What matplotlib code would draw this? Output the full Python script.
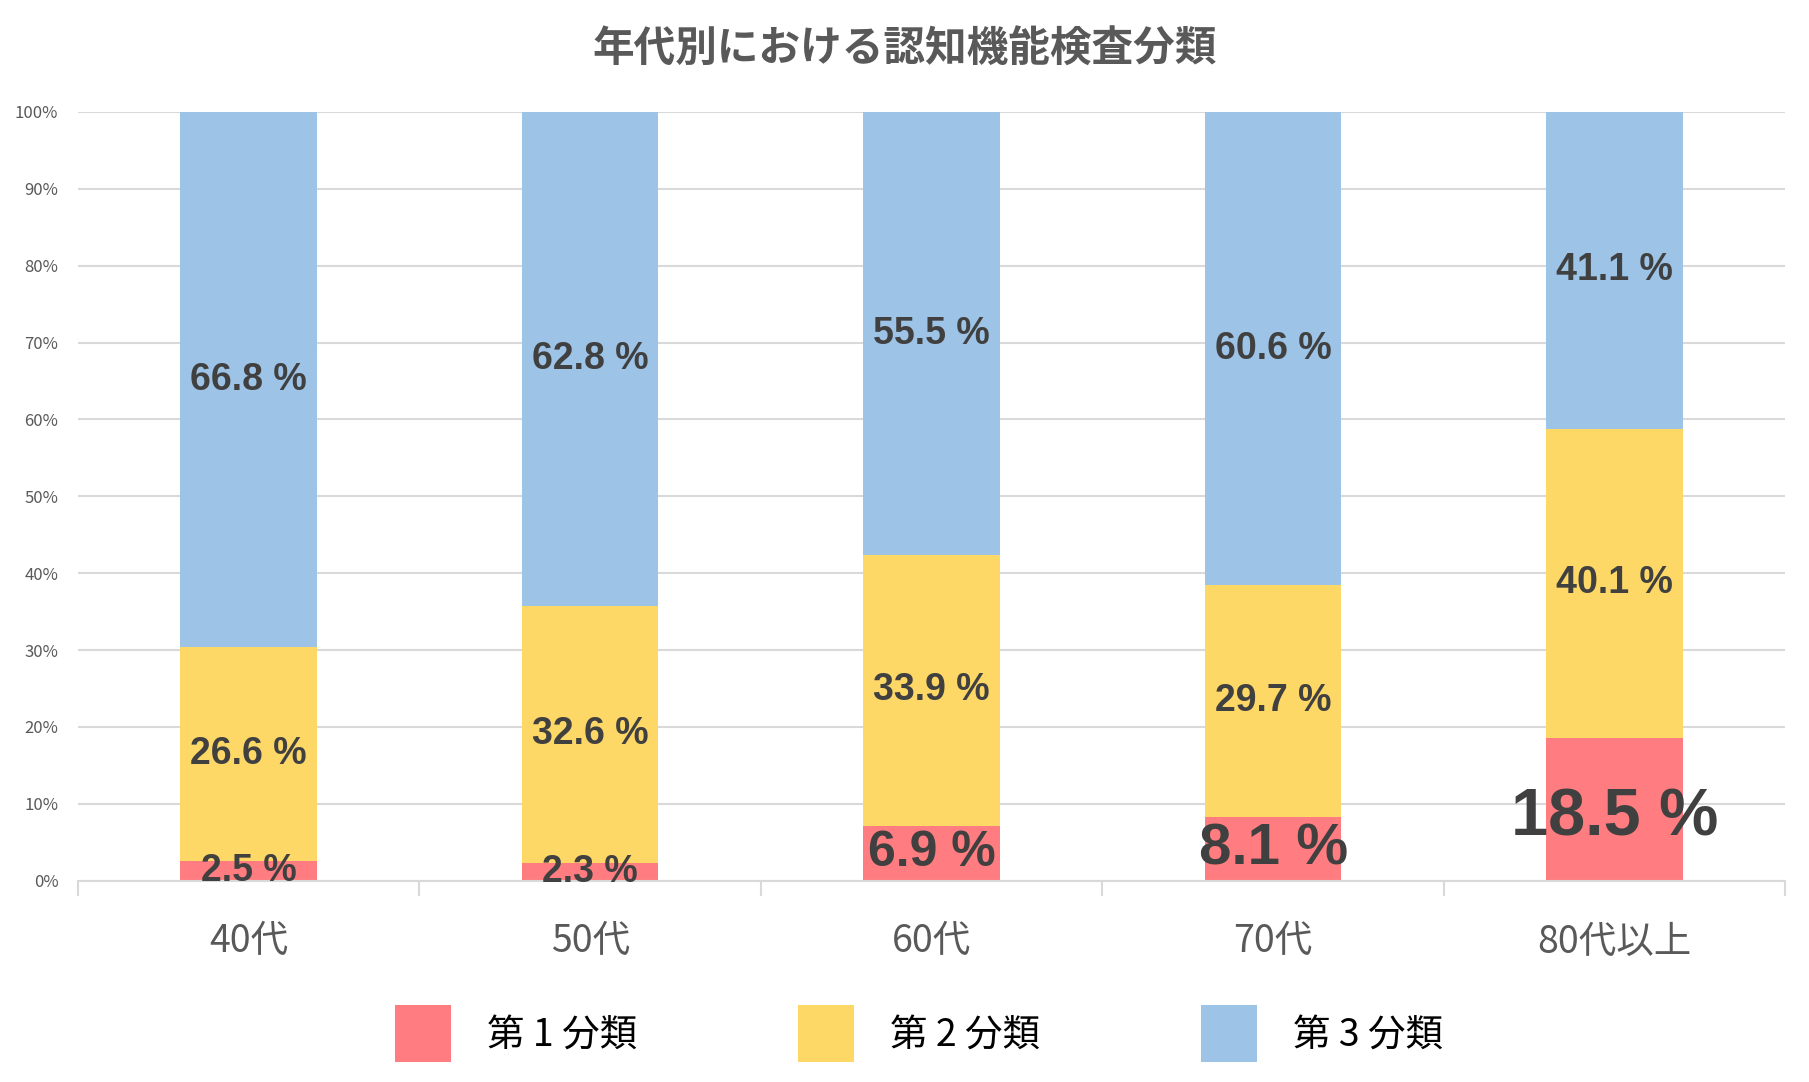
import numpy as np
import matplotlib
matplotlib.use("Agg")
import matplotlib.pyplot as plt
from matplotlib.ticker import PercentFormatter, FixedLocator

plt.rcParams['font.family'] = ['Noto Sans CJK JP', 'DejaVu Sans']

# データ
categories = ["40代", "50代", "60代", "70代", "80代以上"]
series_names = ["第 1 分類", "第 2 分類", "第 3 分類"]
cls1 = [2.5, 2.3, 6.9, 8.1, 18.5]
cls2 = [26.6, 32.6, 33.9, 29.7, 40.1]
cls3 = [66.8, 62.8, 55.5, 60.6, 41.1]

colors = ["#FF7C80", "#FDD867", "#9DC3E6"]
# 第1分類のラベルだけ大きさが違う
label_sizes1 = [27, 27, 36, 42, 48]

fig = plt.figure(figsize=(18.09, 10.82), dpi=100)
ax = fig.add_axes([0.043, 0.186, 0.944, 0.7105])

x = np.arange(len(categories))
data = np.array([cls1, cls2, cls3])
total = data.sum(axis=0)
frac = data / total  # 100%積み上げ

bottom = np.zeros(len(categories))
bars = []
for i in range(3):
    b = ax.bar(x, frac[i], 0.4, bottom=bottom, color=colors[i], label=series_names[i], zorder=2)
    bars.append(b)
    for j in range(len(categories)):
        size = label_sizes1[j] if i == 0 else 27
        yc = bottom[j] + frac[i][j] / 2
        if size > 45:
            yc -= 0.012  # 一番大きいラベルは少し下げる
        ax.text(x[j], yc, f"{data[i][j]:.1f} %",
                ha="center", va="center", fontsize=size, fontweight="bold",
                color="#404040", family=["Liberation Sans", "DejaVu Sans"], zorder=3)
    bottom = bottom + frac[i]

ax.set_xlim(-0.5, len(categories) - 0.5)
ax.set_ylim(0, 1)
ax.yaxis.set_major_locator(FixedLocator(np.arange(0, 1.01, 0.1)))
ax.yaxis.set_major_formatter(PercentFormatter(1.0, decimals=0))
ax.grid(axis="y", color="#D9D9D9", lw=1.5, zorder=0)
ax.tick_params(axis="y", length=0, labelsize=12, labelcolor="#595959", pad=14)

ax.set_xticks(x)
ax.set_xticklabels(categories)
ax.tick_params(axis="x", which="major", length=0, labelsize=27, labelcolor="#595959", pad=30)
ax.set_xticks(np.arange(-0.5, len(categories)), minor=True)
ax.tick_params(axis="x", which="minor", length=11, width=1.5, color="#D9D9D9")

for s in ["left", "right", "top"]:
    ax.spines[s].set_visible(False)
ax.spines["bottom"].set_color("#D9D9D9")
ax.spines["bottom"].set_linewidth(1.5)

fig.text(0.5, 0.954, "年代別における認知機能検査分類", ha="center", va="center",
         fontsize=30, fontweight="bold", color="#595959")

fig.legend(handles=bars, labels=series_names, loc="center", bbox_to_anchor=(0.508, 0.045),
           ncol=3, frameon=False, fontsize=27, handlelength=1.5, handleheight=1.95,
           handletextpad=0.95, columnspacing=4.3)

fig.savefig("out.png", dpi=100)
